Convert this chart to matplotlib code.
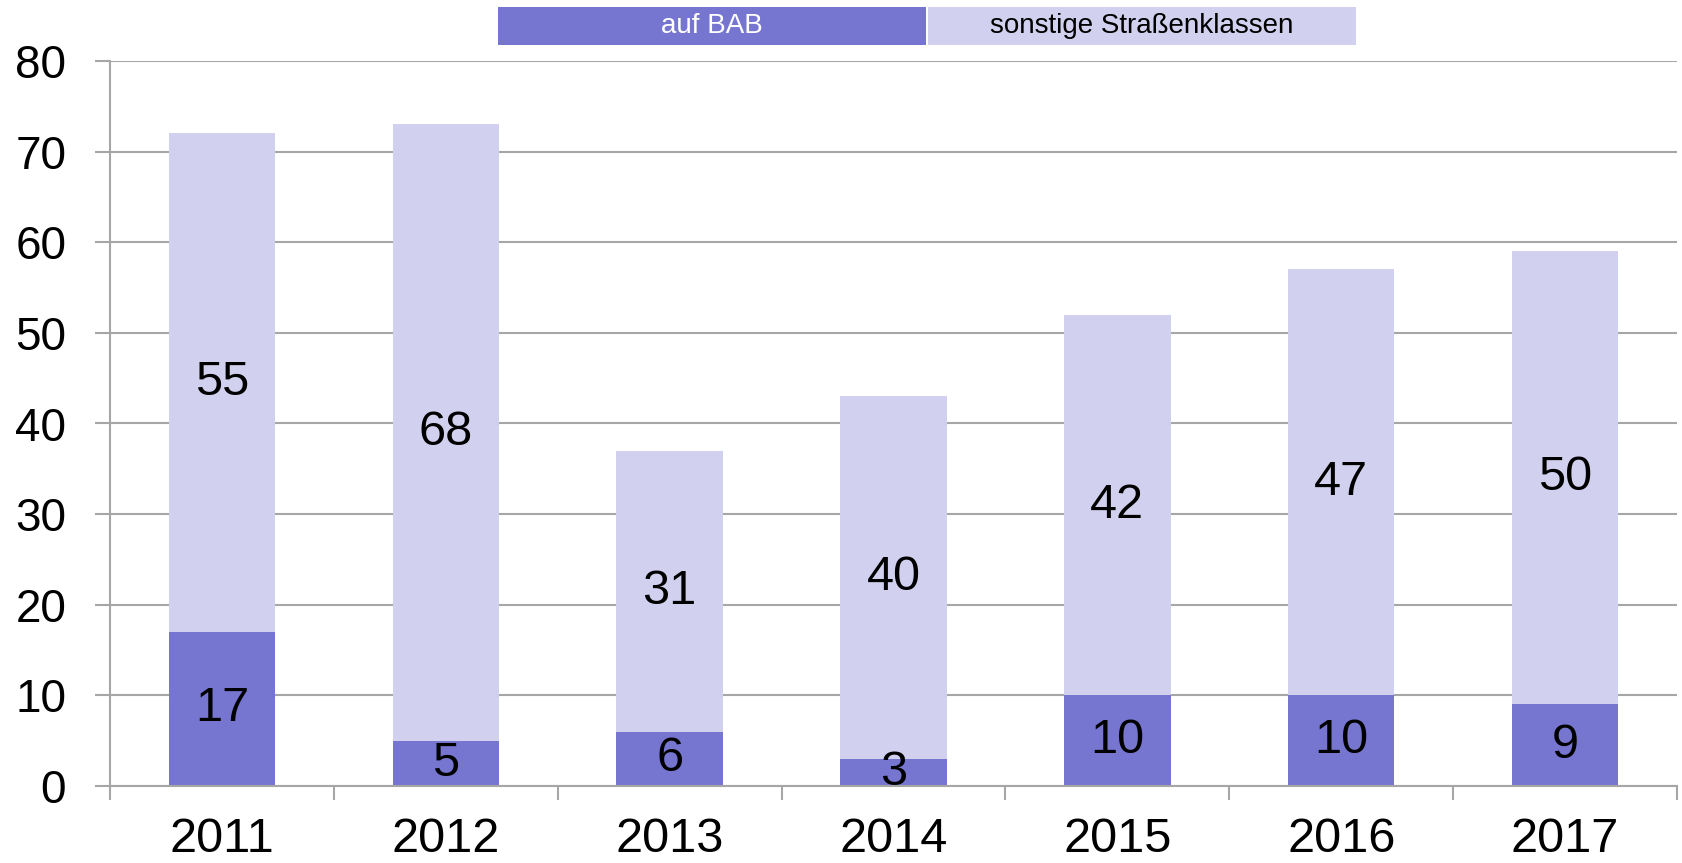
import matplotlib.pyplot as plt
from matplotlib.patches import Rectangle
import numpy as np

plt.rcParams['font.family'] = ['Liberation Sans', 'DejaVu Sans']

years = ["2011", "2012", "2013", "2014", "2015", "2016", "2017"]
bab = [17, 5, 6, 3, 10, 10, 9]
sonstige = [55, 68, 31, 40, 42, 47, 50]
series_names = ["auf BAB", "sonstige Straßenklassen"]

dark = "#7675d0"
light = "#d1d1ef"
grid_col = "#a6a6a6"

fig = plt.figure(figsize=(16.83, 8.63), dpi=100)
ax = fig.add_axes((110/1683, 1-786/863, (1677-110)/1683, (786-61)/863))

x = np.arange(len(years))
w = 0.475
ax.bar(x, bab, w, color=dark, zorder=3)
ax.bar(x, sonstige, w, bottom=bab, color=light, zorder=3)

for i in range(len(years)):
    ax.text(x[i], bab[i]/2, str(bab[i]), ha="center", va="center", fontsize=35, zorder=4)
    ax.text(x[i], bab[i] + sonstige[i]/2, str(sonstige[i]), ha="center", va="center", fontsize=35, zorder=4)

ax.set_xlim(-0.5, len(years)-0.5)
ax.set_ylim(0, 80)
ax.set_yticks(range(0, 81, 10))
ax.yaxis.grid(True, color=grid_col, linewidth=1.5, zorder=0)
ax.set_xticks(x)
ax.set_xticklabels(years)
ax.set_xticks(np.arange(-0.5, len(years), 1), minor=True)
ax.tick_params(axis="x", which="major", length=0, pad=22, labelsize=35)
ax.tick_params(axis="x", which="minor", length=10, width=1.5, color=grid_col)
ax.tick_params(axis="y", length=10.5, width=1.5, color=grid_col, pad=21, labelsize=33)
for s in ["top", "right"]:
    ax.spines[s].set_visible(False)
for s in ["left", "bottom"]:
    ax.spines[s].set_color(grid_col)
    ax.spines[s].set_linewidth(1.5)
    ax.spines[s].set_zorder(5)

# legend as two boxes on top
y0 = 1 - 45/863
h = 37.5/863
boxes = [(498, 926, dark, "white"), (928, 1356, light, "black")]
for (xa, xb, fc, tc), name in zip(boxes, series_names):
    fig.patches.append(Rectangle((xa/1683, y0), (xb-xa)/1683, h, transform=fig.transFigure,
                                 facecolor=fc, edgecolor="none"))
    fig.text((xa+xb)/2/1683, y0 + h/2, name, ha="center", va="center", fontsize=20, color=tc)

plt.savefig("out.png")
